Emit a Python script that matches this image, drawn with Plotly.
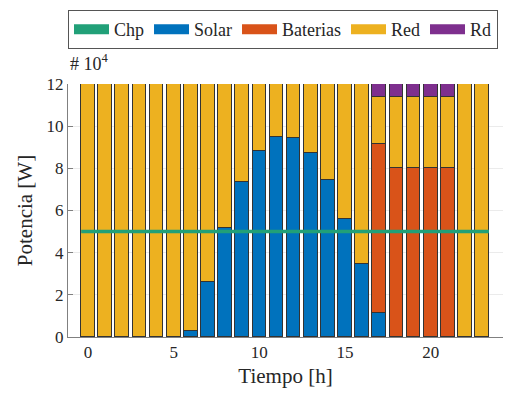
import plotly.graph_objects as go

hours = list(range(24))
chp = [50000] * 24
solar = [0, 0, 0, 0, 0, 0, 3000, 26000, 51500, 73500, 88000, 95000,
         94500, 87500, 74500, 56000, 34500, 11500, 0, 0, 0, 0, 0, 0]
baterias = [0] * 17 + [80000, 80000, 80000, 80000, 80000, 0, 0]
red = [120000, 120000, 120000, 120000, 120000, 120000, 117000, 94000, 68500, 46500, 32000, 25000,
       25500, 32500, 45500, 64000, 85500, 22300, 33800, 33800, 33800, 33800, 120000, 120000]
rd = [0] * 17 + [6200, 6200, 6200, 6200, 6200, 0, 0]

y_ticks = [0, 20000, 40000, 60000, 80000, 100000, 120000]
y_ticktext = ["0", "2", "4", "6", "8", "10", "12"]
x_ticks = [0, 5, 10, 15, 20]

C_CHP = "#21a078"
C_SOLAR = "#0072bd"
C_BAT = "#d95319"
C_RED = "#edb120"
C_RD = "#7e2f8e"
FONT = "Liberation Serif, Times New Roman, Times, serif"
TXT = "#262626"
BW = 0.8

fig = go.Figure()
for name, vals, col in [("Solar", solar, C_SOLAR), ("Baterias", baterias, C_BAT),
                        ("Red", red, C_RED), ("Rd", rd, C_RD)]:
    fig.add_trace(go.Bar(x=hours, y=vals, name=name, width=BW, showlegend=False,
                         marker=dict(color=col, line=dict(color="#333333", width=1))))

# Chp line spanning the bar range
chp_x = [hours[0] - BW / 2] + hours + [hours[-1] + BW / 2]
chp_y = [chp[0]] + chp + [chp[-1]]
fig.add_trace(go.Scatter(x=chp_x, y=chp_y, mode="lines", showlegend=False,
                         line=dict(color=C_CHP, width=3.5)))

# legend entries (patch-like)
for name, col in [("Chp", C_CHP), ("Solar", C_SOLAR), ("Baterias", C_BAT), ("Red", C_RED), ("Rd", C_RD)]:
    fig.add_trace(go.Scatter(x=[None], y=[None], mode="lines", name=name,
                             line=dict(color=col, width=15)))

fig.update_layout(
    width=505, height=393,
    margin=dict(l=68, r=2, t=84, b=56),
    barmode="stack",
    bargap=0,
    plot_bgcolor="white",
    paper_bgcolor="white",
    font=dict(family=FONT, size=17, color=TXT),
    legend=dict(orientation="h", x=0, xanchor="left", y=1.2925, yanchor="top",
                bordercolor="#555555", borderwidth=1, bgcolor="white",
                font=dict(family=FONT, size=18, color=TXT),
                itemwidth=35, tracegroupgap=0, traceorder="normal"),
    xaxis=dict(range=[-1.17, 24.22], tickvals=x_ticks, showgrid=True, gridcolor="#ebebeb",
               gridwidth=1, zeroline=False, showline=True, linecolor="#808080", linewidth=1,
               ticks="", tickfont=dict(family=FONT, size=17, color=TXT),
               title=dict(text="Tiempo [h]", font=dict(family=FONT, size=21, color=TXT), standoff=6)),
    yaxis=dict(range=[0, 120000], tickvals=y_ticks, ticktext=y_ticktext, showgrid=True,
               gridcolor="#ebebeb", gridwidth=1, zeroline=False, showline=True,
               linecolor="#808080", linewidth=1, ticks="inside", ticklen=5, tickcolor="#808080",
               tickfont=dict(family=FONT, size=17, color=TXT),
               title=dict(text="Potencia [W]", font=dict(family=FONT, size=21, color=TXT), standoff=8)),
    annotations=[dict(text="# 10<sup>4</sup>", xref="paper", yref="paper", x=0, y=1.03,
                      xanchor="left", yanchor="bottom", showarrow=False,
                      font=dict(family=FONT, size=18, color=TXT))],
)

fig.write_html("out.html")
